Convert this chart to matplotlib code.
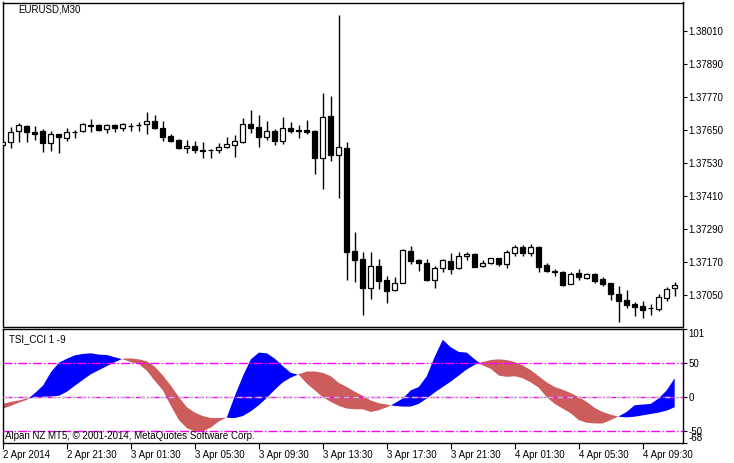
import numpy as np
import matplotlib
matplotlib.use("Agg")
import matplotlib.pyplot as plt

plt.rcParams['font.family'] = ['Liberation Sans', 'DejaVu Sans']

# EURUSD M30 bars, 2 Apr 2014 17:30 .. 4 Apr 2014 11:30
opens = [1.37595, 1.37606, 1.37646, 1.37663, 1.37643, 1.37646, 1.37601, 1.37634, 1.37620, 1.37641,
         1.37645, 1.37668, 1.37668, 1.37653, 1.37668, 1.37658, 1.37664, 1.37667, 1.37671, 1.37684,
         1.37656, 1.37628, 1.37613, 1.37583, 1.37592, 1.37577, 1.37576, 1.37576, 1.37588, 1.37595,
         1.37607, 1.37673, 1.37660, 1.37625, 1.37645, 1.37609, 1.37657, 1.37648, 1.37650, 1.37646,
         1.37550, 1.37701, 1.37558, 1.37584, 1.37210, 1.37180, 1.37074, 1.37154, 1.37103, 1.37070,
         1.37095, 1.37209, 1.37177, 1.37168, 1.37103, 1.37150, 1.37174, 1.37149, 1.37191, 1.37198,
         1.37155, 1.37168, 1.37183, 1.37161, 1.37201, 1.37223, 1.37203, 1.37223, 1.37158, 1.37137,
         1.37134, 1.37090, 1.37130, 1.37112, 1.37126, 1.37110, 1.37092, 1.37055, 1.37031, 1.37016,
         1.37009, 1.37004, 1.36998, 1.37039, 1.37074]
highs = [1.37610, 1.37660, 1.37675, 1.37668, 1.37665, 1.37653, 1.37646, 1.37636, 1.37656, 1.37651,
         1.37675, 1.37689, 1.37673, 1.37671, 1.37671, 1.37674, 1.37674, 1.37678, 1.37716, 1.37704,
         1.37683, 1.37635, 1.37617, 1.37613, 1.37610, 1.37605, 1.37581, 1.37604, 1.37625, 1.37632,
         1.37695, 1.37723, 1.37704, 1.37683, 1.37653, 1.37697, 1.37680, 1.37668, 1.37687, 1.37650,
         1.37783, 1.37774, 1.38068, 1.37606, 1.37279, 1.37205, 1.37205, 1.37180, 1.37118, 1.37116,
         1.37217, 1.37228, 1.37180, 1.37180, 1.37155, 1.37180, 1.37201, 1.37207, 1.37207, 1.37201,
         1.37176, 1.37185, 1.37185, 1.37213, 1.37231, 1.37231, 1.37235, 1.37228, 1.37165, 1.37146,
         1.37137, 1.37132, 1.37143, 1.37130, 1.37130, 1.37116, 1.37094, 1.37082, 1.37067, 1.37025,
         1.37027, 1.37019, 1.37055, 1.37079, 1.37098]
lows = [1.37592, 1.37583, 1.37607, 1.37606, 1.37613, 1.37571, 1.37573, 1.37567, 1.37611, 1.37620,
        1.37641, 1.37641, 1.37645, 1.37638, 1.37641, 1.37645, 1.37647, 1.37646, 1.37635, 1.37655,
        1.37611, 1.37605, 1.37580, 1.37567, 1.37565, 1.37547, 1.37549, 1.37567, 1.37585, 1.37553,
        1.37604, 1.37638, 1.37589, 1.37613, 1.37595, 1.37600, 1.37640, 1.37620, 1.37634, 1.37490,
        1.37435, 1.37538, 1.37403, 1.37106, 1.37098, 1.36979, 1.37034, 1.37072, 1.37021, 1.37065,
        1.37092, 1.37162, 1.37138, 1.37101, 1.37076, 1.37134, 1.37125, 1.37143, 1.37177, 1.37151,
        1.37153, 1.37163, 1.37156, 1.37150, 1.37192, 1.37192, 1.37192, 1.37132, 1.37132, 1.37120,
        1.37083, 1.37089, 1.37106, 1.37110, 1.37094, 1.37083, 1.37031, 1.36952, 1.37003, 1.36973,
        1.36967, 1.36976, 1.36991, 1.37029, 1.37047]
closes = [1.37606, 1.37641, 1.37668, 1.37641, 1.37637, 1.37601, 1.37636, 1.37623, 1.37641, 1.37643,
          1.37672, 1.37666, 1.37650, 1.37668, 1.37656, 1.37672, 1.37665, 1.37669, 1.37683, 1.37656,
          1.37625, 1.37610, 1.37583, 1.37592, 1.37577, 1.37575, 1.37578, 1.37588, 1.37598, 1.37610,
          1.37671, 1.37658, 1.37625, 1.37645, 1.37611, 1.37656, 1.37647, 1.37649, 1.37643, 1.37550,
          1.37696, 1.37560, 1.37589, 1.37207, 1.37179, 1.37074, 1.37154, 1.37101, 1.37066, 1.37095,
          1.37213, 1.37174, 1.37165, 1.37103, 1.37150, 1.37176, 1.37146, 1.37191, 1.37198, 1.37153,
          1.37168, 1.37183, 1.37161, 1.37205, 1.37223, 1.37203, 1.37223, 1.37153, 1.37139, 1.37132,
          1.37086, 1.37125, 1.37116, 1.37126, 1.37101, 1.37089, 1.37053, 1.37029, 1.37013, 1.37007,
          1.36995, 1.37002, 1.37042, 1.37071, 1.37088]

# TSI_CCI indicator: main line and signal line
tsi = [-17, -13, -8, -4, 6, 17, 37, 51, 57, 62, 64, 65, 63, 62.5, 59, 56, 52, 49, 39, 24,
       10, -13, -34, -46, -51, -51, -45, -36, -30, 2, 31, 56, 66, 65, 57, 46, 36, 33, 20, 10,
       0, -7, -13, -17, -18, -18, -22, -19.5, -15, -9, -2, 10, 15, 31, 60, 85, 74, 67, 66, 56,
       47, 42, 32, 30, 31, 28, 22, 14, 0, -10, -17, -24, -34, -38, -39, -39, -34, -28.5, -22, -12,
       -11, -10, -2, 10, 28]
signal = [-10, -7, -5, -2, -1, 0.5, 1, 2, 8, 17, 25.6, 34, 40, 46, 52, 57, 57.5, 56, 53, 45,
          32, 17, 0, -15, -23, -28, -31, -31, -30.5, -31, -28, -21, -12, -1, 11, 22, 29, 34, 38, 38,
          36, 31, 21, 15, 8, 2, -5, -9, -11, -13, -14, -14, -10, -2, 7, 15, 23, 32, 41, 48,
          52, 55, 56, 55, 52, 47, 40, 31, 22, 15, 11, 6, 0, -7, -16, -22, -26, -29, -30, -29,
          -27, -25, -23, -20, -15]

price_ticks = [1.37050, 1.37170, 1.37290, 1.37410, 1.37530, 1.37650, 1.37770, 1.37890, 1.38010]
time_labels = ["2 Apr 2014", "2 Apr 21:30", "3 Apr 01:30", "3 Apr 05:30", "3 Apr 09:30",
               "3 Apr 13:30", "3 Apr 17:30", "3 Apr 21:30", "4 Apr 01:30", "4 Apr 05:30",
               "4 Apr 09:30"]
ind_levels = [50, 0, -50]

W, H = 734, 463
fig = plt.figure(figsize=(W / 100, H / 100), dpi=100)
fs = 7

ax = fig.add_axes([3 / W, 1 - 326.5 / H, 680 / W, 324 / H])
ax2 = fig.add_axes([3 / W, 1 - 443 / H, 680 / W, 114 / H])

x = np.arange(len(opens))
o = np.array(opens)
c = np.array(closes)

# candles
ax.vlines(x, lows, highs, color="black", linewidth=1.0, zorder=2)
bull = c >= o
ax.bar(x[bull], (c - o)[bull], bottom=o[bull], width=0.6, facecolor="white",
       edgecolor="black", linewidth=0.9, zorder=3)
ax.bar(x[~bull], (o - c)[~bull], bottom=c[~bull], width=0.6, facecolor="black",
       edgecolor="black", linewidth=0.9, zorder=3)

ax.set_xlim(0.04, 85.04)
ax.set_ylim(1.369355, 1.381136)
ax.set_xticks([])
ax.yaxis.tick_right()
ax.set_yticks(price_ticks)
ax.set_yticklabels(["%.5f" % p for p in price_ticks])
ax.tick_params(axis="y", direction="out", length=3, width=0.8, pad=1, labelsize=fs)
for s in ax.spines.values():
    s.set_linewidth(1.0)
fig.text(18 / W, 1 - 10 / H, "EURUSD,M30", fontsize=fs, va="center", ha="left")

# indicator
t = np.array(tsi)
sg = np.array(signal)
ax2.fill_between(x, t, sg, where=t >= sg, interpolate=True, color="#0000FF", linewidth=0, zorder=2)
ax2.fill_between(x, t, sg, where=t < sg, interpolate=True, color="#CD5C5C", linewidth=0, zorder=2)
for lv in ind_levels:
    ax2.axhline(lv, color="#FF00FF", linestyle="-.", linewidth=1.0, zorder=3)
ax2.axhline(0, color="#C0C0C0", linestyle=(0, (4, 3)), linewidth=1.0, zorder=4)

ax2.set_xlim(0.04, 85.04)
ax2.set_ylim(-68, 101)
ax2.yaxis.tick_right()
ax2.set_yticks([101, 50, 0, -50, -68])
ax2.set_yticklabels(["101", "50", "0", "-50", "-68"])
ax2.tick_params(axis="y", direction="out", length=3, width=0.8, pad=1, labelsize=fs)
ylabs = ax2.get_yticklabels()
ylabs[0].set_va("top")
ylabs[4].set_va("bottom")

ax2.set_xticks(np.arange(0, 81, 8))
ax2.set_xticklabels(time_labels, ha="left")
ax2.tick_params(axis="x", direction="out", length=4, width=0.8, pad=1, labelsize=fs)
for s in ax2.spines.values():
    s.set_linewidth(1.0)

ax2.text(6 / 680, 1 - 10 / 114, "TSI_CCI 1 -9", transform=ax2.transAxes,
         fontsize=fs, va="center", ha="left")
ax2.text(2 / 680, 1 - 107 / 114, "Alpari NZ MT5, \u00a9 2001-2014, MetaQuotes Software Corp.",
         transform=ax2.transAxes, fontsize=fs, va="center", ha="left", zorder=5)

fig.savefig("out.png", dpi=100)
